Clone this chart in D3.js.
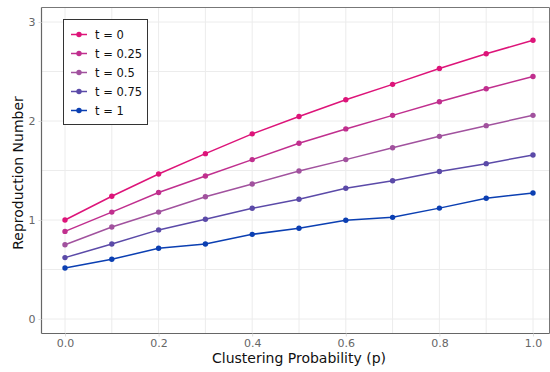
<!DOCTYPE html>
<html>
<head>
<meta charset="utf-8">
<script src="https://cdn.jsdelivr.net/npm/d3@7"></script>
<style>
  html, body { margin: 0; padding: 0; background: #fff; }
  svg { display: block; font-family: "DejaVu Sans", sans-serif; }
</style>
</head>
<body>
<svg id="chart" width="550" height="372"></svg>
<script>
// Clustering probability values on the x axis
const pValues = [0.0, 0.1, 0.2, 0.3, 0.4, 0.5, 0.6, 0.7, 0.8, 0.9, 1.0];

// Series labels and colours
const seriesNames = ["t = 0", "t = 0.25", "t = 0.5", "t = 0.75", "t = 1"];
const seriesColors = ["#dd1479", "#c02f8e", "#a1529e", "#5b4aa8", "#0b3fb2"];

// Reproduction number per series
const r_t0    = [1.00, 1.24, 1.465, 1.67, 1.87, 2.045, 2.215, 2.37, 2.53, 2.68, 2.815];
const r_t025  = [0.885, 1.08, 1.278, 1.445, 1.61, 1.775, 1.92, 2.057, 2.195, 2.326, 2.45];
const r_t05   = [0.75, 0.93, 1.08, 1.235, 1.364, 1.495, 1.61, 1.73, 1.845, 1.953, 2.057];
const r_t075  = [0.62, 0.757, 0.90, 1.007, 1.118, 1.209, 1.32, 1.397, 1.49, 1.569, 1.657];
const r_t1    = [0.515, 0.603, 0.714, 0.758, 0.855, 0.916, 0.997, 1.027, 1.12, 1.219, 1.273];
const seriesValues = [r_t0, r_t025, r_t05, r_t075, r_t1];

// Axis ticks
const xTicks = [0, 0.2, 0.4, 0.6, 0.8, 1.0];
const yTicks = [0, 1, 2, 3];

const svg = d3.select("#chart");
const frame = { left: 41.5, right: 549.5, top: 7.5, bottom: 333.5 };

const x = d3.scaleLinear().domain([0, 1]).range([65, 533]);
const y = d3.scaleLinear().domain([0, 3]).range([319, 22]);

// Grid: every 0.1 on x, every 0.5 on y
const g = svg.append("g");
const xMinor = d3.range(0, 1.0001, 0.1);
const yMinor = [0.5, 1.5, 2.5];
g.selectAll(".vx").data(xMinor).join("line")
  .attr("x1", d => x(d)).attr("x2", d => x(d))
  .attr("y1", frame.top).attr("y2", frame.bottom)
  .attr("stroke", "#ececec").attr("stroke-width", 1);
g.selectAll(".hy").data(yMinor.concat(yTicks)).join("line")
  .attr("x1", frame.left).attr("x2", frame.right)
  .attr("y1", d => y(d)).attr("y2", d => y(d))
  .attr("stroke", "#ececec").attr("stroke-width", 1);

// Frame
svg.append("line").attr("x1", frame.left).attr("x2", frame.right)
  .attr("y1", frame.top).attr("y2", frame.top).attr("stroke", "#777").attr("stroke-width", 1);
svg.append("line").attr("x1", frame.right).attr("x2", frame.right)
  .attr("y1", frame.top).attr("y2", frame.bottom).attr("stroke", "#777").attr("stroke-width", 1);
svg.append("line").attr("x1", frame.left).attr("x2", frame.left)
  .attr("y1", frame.top).attr("y2", frame.bottom).attr("stroke", "#666").attr("stroke-width", 1.2);
svg.append("line").attr("x1", frame.left).attr("x2", frame.right)
  .attr("y1", frame.bottom).attr("y2", frame.bottom).attr("stroke", "#666").attr("stroke-width", 1.2);

// Axes
const xAxis = d3.axisBottom(x).tickValues(xTicks).tickFormat(d3.format(".1f")).tickSize(3).tickPadding(3);
const yAxis = d3.axisLeft(y).tickValues(yTicks).tickFormat(d3.format("d")).tickSize(3).tickPadding(3);
const xa = svg.append("g").attr("transform", `translate(0,${frame.bottom})`).call(xAxis);
const ya = svg.append("g").attr("transform", `translate(${frame.left},0)`).call(yAxis);
[xa, ya].forEach(a => {
  a.select(".domain").remove();
  a.selectAll(".tick line").attr("stroke", "#ddd");
  a.selectAll("text").attr("fill", "#666").style("font-size", "11px").style("font-family", "DejaVu Sans");
});

// Axis titles
svg.append("text").attr("x", 299).attr("y", 363).attr("text-anchor", "middle")
  .style("font-size", "14px").attr("fill", "#111").text("Clustering Probability (p)");
svg.append("text").attr("transform", "translate(23,173) rotate(-90)").attr("text-anchor", "middle")
  .style("font-size", "14px").attr("fill", "#111").text("Reproduction Number");

// Series lines and points
const line = d3.line().x((d, i) => x(pValues[i])).y(d => y(d));
seriesValues.forEach((vals, k) => {
  const sg = svg.append("g");
  sg.append("path").datum(vals).attr("d", line).attr("fill", "none")
    .attr("stroke", seriesColors[k]).attr("stroke-width", 1.5);
  sg.selectAll("circle").data(vals).join("circle")
    .attr("cx", (d, i) => x(pValues[i])).attr("cy", d => y(d)).attr("r", 2.7)
    .attr("fill", seriesColors[k]);
});

// Legend
const lg = svg.append("g");
lg.append("rect").attr("x", 63.5).attr("y", 19.5).attr("width", 84).attr("height", 105)
  .attr("fill", "#fff").attr("stroke", "#333").attr("stroke-width", 1);
seriesNames.forEach((name, k) => {
  const yy = 34.5 + k * 19;
  lg.append("line").attr("x1", 71).attr("x2", 87).attr("y1", yy).attr("y2", yy)
    .attr("stroke", seriesColors[k]).attr("stroke-width", 1.5);
  lg.append("circle").attr("cx", 79).attr("cy", yy).attr("r", 2.7).attr("fill", seriesColors[k]);
  lg.append("text").attr("x", 95).attr("y", yy + 4).style("font-size", "11.5px")
    .attr("fill", "#111").text(name);
});
</script>
</body>
</html>
